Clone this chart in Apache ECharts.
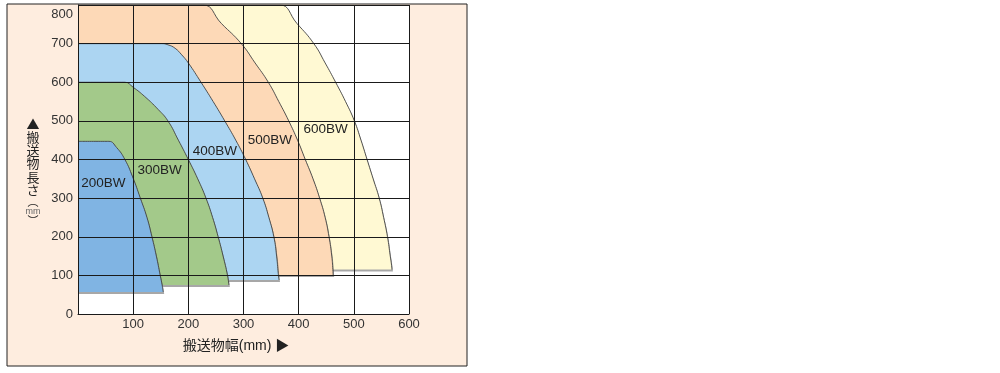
<!DOCTYPE html>
<html>
<head>
<meta charset="utf-8">
<script src="https://cdn.jsdelivr.net/npm/echarts@6/dist/echarts.min.js"></script>
<style>
html,body{margin:0;padding:0;background:#fff;}
#chart{width:1000px;height:373px;}
</style>
</head>
<body>
<div id="chart"></div>
<script>
// ---- data ----
const seriesNames = ['600BW', '500BW', '400BW', '300BW', '200BW'];
const bw600 = [[0,800],[340,800],[366,800],[397,752],[427.5,700],[448,650],[467,600],[485,550],[501,500],[513,450],[524,400],[535,350],[546,300],[554,250],[561,200],[566,150],[568.5,125],[569,115]];
const bw500 = [[0,800],[205,800],[227,800],[260,752],[296,700],[321,650],[345,600],[364,550],[382,500],[398,450],[412,400],[426,350],[438,300],[448,250],[455,200],[460,150],[462,115],[462.5,101]];
const bw400 = [[0,700],[135,700],[151,700],[163,697],[176,688],[188,671],[200,650],[223,600],[245,550],[266,500],[286,450],[304,400],[320,350],[335,300],[346,250],[355,200],[360,150],[363,105],[364.5,88]];
const bw300 = [[0,600],[72,600],[85,600],[100,587],[121,563],[145,530],[163,500],[182,450],[200,400],[217,350],[232,300],[244,250],[254,200],[263,150],[271,100],[273.5,75]];
const bw200 = [[0,447],[45,447],[56,447],[70,431],[85,400],[99,355],[113,300],[125,250],[134,200],[142,150],[149,100],[152.5,75],[154.5,57]];
const floors = [115, 101, 88, 75, 57];
const labelAt = [[449,478],[348,450],[248,422],[148,371],[46,338]];
const xMin = 0, xMax = 600, xStep = 100;
const yMin = 0, yMax = 800, yStep = 100;
const xTitle = '搬送物幅(mm) ▶';
const yTitleChars = ['▲','搬','送','物','長','さ'];

// ---- style ----
const colors = ['#fff9d3', '#fdd9b7', '#acd5f2', '#a3c98a', '#80b4e3'];
const shapes = [bw600, bw500, bw400, bw300, bw200];
const latin = "'Liberation Sans', Arial, sans-serif";
const cjk = "'Liberation Sans', 'Noto Sans CJK JP', sans-serif";

const chart = echarts.init(document.getElementById('chart'), null, {renderer: 'canvas'});

const series = shapes.map((d, i) => ({
  type: 'line',
  name: seriesNames[i],
  data: d,
  smooth: 0.5,
  symbol: 'none',
  clip: true,
  lineStyle: {color: '#444', width: 0.9},
  areaStyle: {
    color: colors[i], opacity: 1, origin: floors[i],
    shadowColor: 'rgba(60,60,60,0.45)', shadowOffsetX: 1, shadowOffsetY: 2, shadowBlur: 0
  },
  emphasis: {disabled: true},
  silent: true,
  markPoint: {
    symbol: 'circle', symbolSize: 0, silent: true,
    label: {show: true, position: 'inside', formatter: seriesNames[i], color: '#222', fontSize: 13.5, fontFamily: latin},
    data: [{coord: labelAt[i]}]
  }
}));

const yRich = yTitleChars.map(c => '{a|' + c + '}').join('\n') + '\n{p|︵}\n{s|mm}\n{p|︶}';

chart.setOption({
  backgroundColor: '#ffffff',
  animation: false,
  graphic: [
    {type: 'rect', z: -10, shape: {x: 7, y: 4, width: 460, height: 362},
     style: {fill: '#feeddf', stroke: '#222', lineWidth: 1}},
    {type: 'text', z: 10, x: 33, y: 117,
     style: {text: yRich, align: 'center', verticalAlign: 'top', fill: '#222',
       rich: {
         a: {fontSize: 13, lineHeight: 13.3, fontFamily: "'Noto Sans CJK JP', sans-serif", fill: '#222', align: 'center'},
         p: {fontSize: 11, lineHeight: 9.5, fontFamily: "'Noto Sans CJK JP', sans-serif", fill: '#222', align: 'center'},
         s: {fontSize: 9, lineHeight: 10, fontFamily: latin, fill: '#666', align: 'center'}
       }}}
  ],
  grid: {left: 78, right: 591, top: 5, bottom: 59, show: true, backgroundColor: '#ffffff', borderWidth: 0, containLabel: false},
  xAxis: {
    type: 'value', min: xMin, max: xMax, interval: xStep, z: 5,
    name: xTitle, nameLocation: 'middle', nameGap: 25,
    nameTextStyle: {fontSize: 14, color: '#222', fontFamily: cjk, padding: [0, 15, 0, 0]},
    axisLine: {show: true, lineStyle: {color: '#1a1a1a', width: 1}},
    axisTick: {show: false},
    axisLabel: {margin: 4, fontSize: 13, color: '#333', fontFamily: latin,
      formatter: v => v === 0 ? '' : String(v)},
    splitLine: {show: true, lineStyle: {color: '#1a1a1a', width: 1}}
  },
  yAxis: {
    type: 'value', min: yMin, max: yMax, interval: yStep, z: 5,
    axisLine: {show: true, lineStyle: {color: '#1a1a1a', width: 1}},
    axisTick: {show: false},
    axisLabel: {margin: 5, fontSize: 13, color: '#333', fontFamily: latin,
      formatter: v => v === yMax ? '{t|' + v + '}' : String(v),
      rich: {t: {padding: [18, 0, 0, 0], fontSize: 13, color: '#333', fontFamily: latin}}},
    splitLine: {show: true, lineStyle: {color: '#1a1a1a', width: 1}}
  },
  series: series
});
</script>
</body>
</html>
